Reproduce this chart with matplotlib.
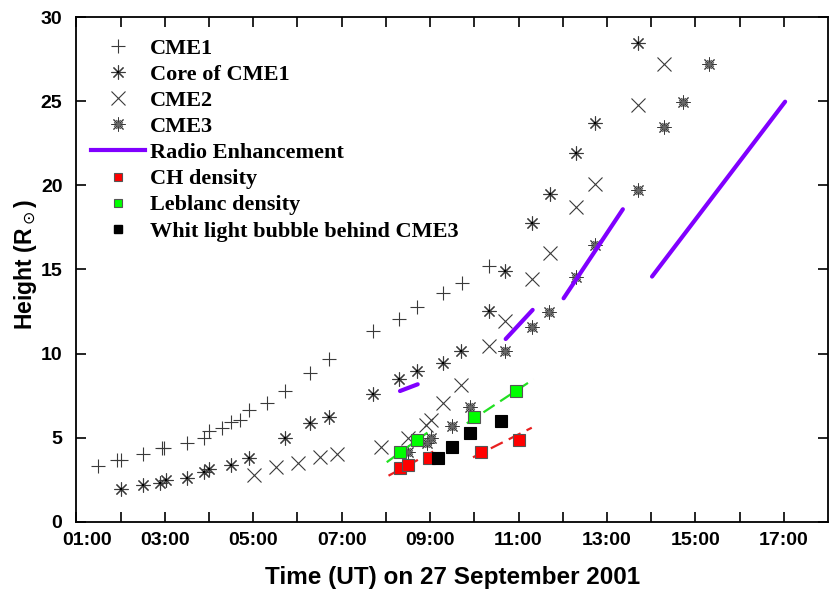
import matplotlib
matplotlib.use('Agg')
import matplotlib.pyplot as plt
import matplotlib.transforms as mtrans
from matplotlib.lines import Line2D
from matplotlib.legend_handler import HandlerTuple

# time in hours (UT), height in solar radii
cme1_t = [1.50, 1.93, 2.01, 2.50, 2.93, 2.99, 3.50, 3.89, 4.01, 4.30, 4.50, 4.70,
          4.90, 5.31, 5.72, 6.28, 6.71, 7.70, 8.30, 8.71, 9.30, 9.72, 10.34]
cme1_h = [3.33, 3.68, 3.68, 4.04, 4.38, 4.38, 4.71, 5.01, 5.41, 5.60, 5.96, 6.06,
          6.65, 7.05, 7.80, 8.87, 9.67, 11.37, 12.04, 12.79, 13.62, 14.18, 15.23]

core_t = [2.01, 2.50, 2.89, 3.03, 3.50, 3.89, 4.01, 4.50, 4.91, 5.72, 6.28, 6.71,
          7.70, 8.30, 8.71, 9.30, 9.70, 10.34, 10.70, 11.30, 11.71, 12.30, 12.72, 13.71]
core_h = [1.94, 2.20, 2.30, 2.50, 2.63, 2.95, 3.15, 3.39, 3.78, 4.97, 5.86, 6.26,
          7.60, 8.48, 8.97, 9.47, 10.18, 12.54, 14.93, 17.75, 19.49, 21.94, 23.69, 28.44]

cme2_t = [5.02, 5.52, 6.01, 6.51, 6.90, 7.89, 8.51, 8.90, 9.02, 9.30, 9.70, 10.34,
          10.70, 11.30, 11.71, 12.30, 12.72, 13.71, 14.30]
cme2_h = [2.79, 3.25, 3.53, 3.84, 4.04, 4.44, 5.00, 5.76, 6.06, 7.05, 8.16, 10.46,
          11.94, 14.42, 16.00, 18.70, 20.06, 24.78, 27.19]

cme3_t = [8.51, 8.93, 9.02, 9.50, 9.90, 10.70, 11.30, 11.70, 12.30, 12.72, 13.71,
          14.30, 14.72, 15.30]
cme3_h = [4.18, 4.67, 4.97, 5.72, 6.81, 10.18, 11.57, 12.50, 14.54, 16.46, 19.73,
          23.49, 24.97, 27.19]

# radio enhancement segments (start/end)
radio_t = [(8.32, 8.72), (10.71, 11.32), (12.02, 13.36), (14.02, 17.03)]
radio_h = [(7.78, 8.18), (10.87, 12.60), (13.29, 18.58), (14.58, 24.97)]

ch_t = [8.32, 8.51, 8.98, 10.15, 11.00]
ch_h = [3.19, 3.39, 3.78, 4.18, 4.87]
ch_fit_t = [(8.06, 9.07), (9.97, 11.30)]
ch_fit_h = [(2.75, 4.18), (3.84, 5.60)]

leb_t = [8.32, 8.70, 10.00, 10.95]
leb_h = [4.18, 4.87, 6.26, 7.78]
leb_fit_t = [(8.02, 8.94), (9.83, 11.34)]
leb_fit_h = [(3.55, 5.31), (5.86, 8.48)]

wl_t = [9.17, 9.50, 9.90, 10.60]
wl_h = [3.78, 4.47, 5.31, 6.00]

xticks = list(range(1, 18))
xlabels = ['%02d:00' % h if h % 2 == 1 else '' for h in xticks]

sans = 'Liberation Sans'
serif = 'Liberation Serif'
gray = '#3a3a3a'
purple = '#8000ff'

fig = plt.figure(figsize=(8.3, 5.89), dpi=100)
ax = fig.add_axes([0.092, 0.1138, 0.9056, 0.8573])

ax.plot(cme1_t, cme1_h, ls='none', marker='+', ms=10, mew=0.8, color=gray)
ax.plot(core_t, core_h, ls='none', marker=(8, 2, 0), ms=10, mew=0.8, color=gray)
ax.plot(core_t, core_h, ls='none', marker='s', ms=2, mew=0, color='black')
ax.plot(cme2_t, cme2_h, ls='none', marker='x', ms=10, mew=0.8, color=gray)
ax.plot(cme3_t, cme3_h, ls='none', marker=(8, 2, 0), ms=10, mew=0.7, color=gray)
ax.plot(cme3_t, cme3_h, ls='none', marker=(8, 2, 22.5), ms=7, mew=0.6, color='#666666')

for tt, hh in zip(radio_t, radio_h):
    ax.plot(tt, hh, color=purple, lw=3, solid_capstyle='round')

for tt, hh in zip(ch_fit_t, ch_fit_h):
    ax.plot(tt, hh, color='#e82020', lw=1.6, dashes=(6, 3))
for tt, hh in zip(leb_fit_t, leb_fit_h):
    ax.plot(tt, hh, color='#22e022', lw=1.6, dashes=(6, 3))

ax.plot(ch_t, ch_h, ls='none', marker='s', ms=8, mfc='#ff0000', mec='#555555', mew=0.8)
ax.plot(leb_t, leb_h, ls='none', marker='s', ms=8, mfc='#00ff00', mec='#555555', mew=0.8)
ax.plot(wl_t, wl_h, ls='none', marker='s', ms=8, mfc='black', mec='black', mew=0.8)

ax.set_xlim(1, 18)
ax.set_ylim(0, 30)
ax.set_xticks(xticks)
ax.set_xticklabels(xlabels)
ax.set_yticks(range(0, 31, 5))
ax.tick_params(direction='in', length=7, width=1.2, top=True, right=True,
               labelsize=14)
ax.tick_params(axis='x', pad=7)
ax.tick_params(axis='y', pad=10)
for lab in ax.get_xticklabels() + ax.get_yticklabels():
    lab.set_fontfamily(sans)
    lab.set_fontweight('bold')
# first label sits a bit right of its tick in the original
first = ax.get_xticklabels()[0]
first.set_transform(first.get_transform() +
                    mtrans.ScaledTranslation(11 / 100, 0, fig.dpi_scale_trans))
for sp in ax.spines.values():
    sp.set_linewidth(1.3)

ax.set_xlabel('Time (UT) on 27 September 2001', fontfamily=sans, fontweight='bold',
              fontsize=17.5, labelpad=12.5)
ax.set_ylabel(r'Height (R$_\odot$)', fontfamily=sans, fontweight='bold',
              fontsize=16.5)
ax.yaxis.set_label_coords(-0.05, 0.51)

h1 = Line2D([], [], ls='none', marker='+', ms=10, mew=0.8, color=gray)
h2a = Line2D([], [], ls='none', marker=(8, 2, 0), ms=10, mew=0.8, color=gray)
h2b = Line2D([], [], ls='none', marker='s', ms=2, mew=0, color='black')
h3 = Line2D([], [], ls='none', marker='x', ms=10, mew=0.8, color=gray)
h4a = Line2D([], [], ls='none', marker=(8, 2, 0), ms=10, mew=0.7, color=gray)
h4b = Line2D([], [], ls='none', marker=(8, 2, 22.5), ms=7, mew=0.6, color='#666666')
h5 = Line2D([], [], color=purple, lw=3)
h6 = Line2D([], [], ls='none', marker='s', ms=6, mfc='#ff0000', mec='#555555', mew=0.8)
h7 = Line2D([], [], ls='none', marker='s', ms=6, mfc='#00ff00', mec='#555555', mew=0.8)
h8 = Line2D([], [], ls='none', marker='s', ms=6, mfc='black', mec='black')

labels = ['CME1', 'Core of CME1', 'CME2', 'CME3', 'Radio Enhancement',
          'CH density', 'Leblanc density', 'Whit light bubble behind CME3']
leg = ax.legend([h1, (h2a, h2b), h3, (h4a, h4b), h5, h6, h7, h8], labels,
                handler_map={tuple: HandlerTuple(ndivide=1, pad=0)},
                loc='upper left', bbox_to_anchor=(0.02, 0.958), frameon=False,
                handlelength=2.4, handletextpad=0.22, labelspacing=0.25,
                borderpad=0, borderaxespad=0,
                prop={'family': serif, 'weight': 'bold', 'size': 16})

fig.savefig('out.png', dpi=100)
